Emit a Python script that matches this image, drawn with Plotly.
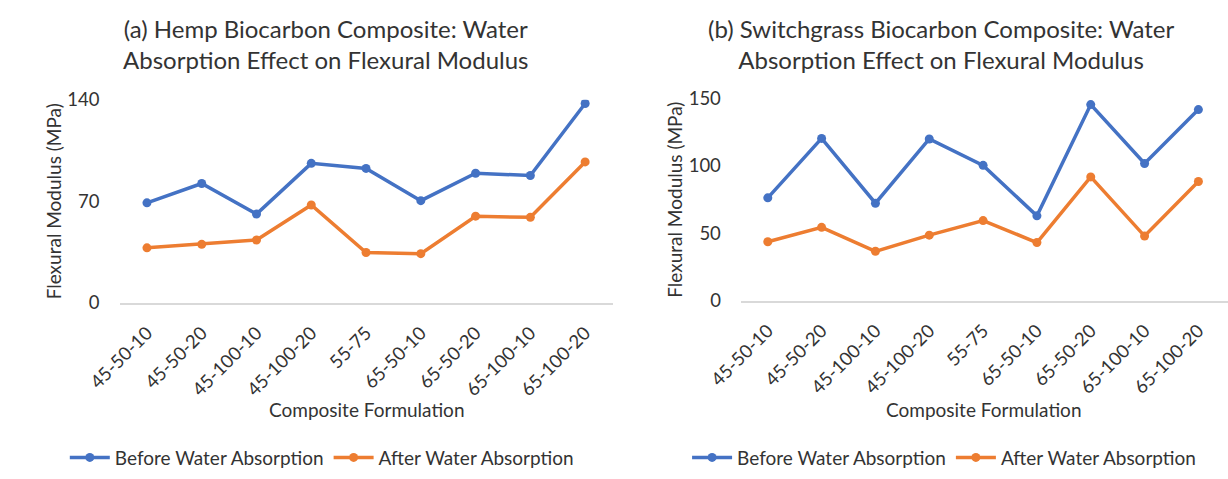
import plotly.graph_objects as go

categories = ["45-50-10", "45-50-20", "45-100-10", "45-100-20", "55-75",
              "65-50-10", "65-50-20", "65-100-10", "65-100-20"]

hemp_before = [69.0, 82.3, 61.3, 96.2, 92.7, 70.5, 89.4, 87.8, 137.4]
hemp_after = [38.0, 40.4, 43.4, 67.5, 34.8, 34.0, 59.8, 59.0, 97.2]

switch_before = [76.3, 120.4, 72.3, 120.0, 100.4, 62.9, 145.5, 101.8, 141.8]
switch_after = [43.7, 54.4, 36.6, 48.6, 59.4, 43.1, 91.8, 47.9, 88.4]

hemp_ticks = [0, 70, 140]
switch_ticks = [0, 50, 100, 150]

BLUE = "#4472C4"
ORANGE = "#ED7D31"
TXT = "#333333"
FONT = "Lato"
W, H = 1228, 479

fig = go.Figure()

def add(x, y, name, color, xa, ya, leg):
    fig.add_trace(go.Scatter(
        x=x, y=y, name=name, mode="lines+markers",
        line=dict(color=color, width=3.5),
        marker=dict(color=color, size=9),
        xaxis=xa, yaxis=ya, legend=leg))

add(categories, hemp_before, "Before Water Absorption", BLUE, "x", "y", "legend")
add(categories, hemp_after, "After Water Absorption", ORANGE, "x", "y", "legend")
add(categories, switch_before, "Before Water Absorption", BLUE, "x2", "y2", "legend2")
add(categories, switch_after, "After Water Absorption", ORANGE, "x2", "y2", "legend2")

tickfont = dict(family=FONT, size=18.5, color=TXT)
xcommon = dict(type="category", tickangle=-45, showgrid=False, zeroline=False,
               showline=True, linecolor="#d9d9d9", linewidth=2, ticks="",
               tickfont=tickfont, ticklabelstandoff=10)
ycommon = dict(showgrid=False, zeroline=False, showline=False, ticks="",
               tickfont=tickfont, ticklabelstandoff=19)

legfont = dict(family=FONT, size=19, color=TXT)

fig.update_layout(
    width=W, height=H,
    margin=dict(l=0, r=0, t=0, b=0),
    paper_bgcolor="white", plot_bgcolor="white",
    font=dict(family=FONT, color=TXT),
    xaxis=dict(domain=[88 / W, 595 / W], range=[-0.5, 8.5], anchor="y", **xcommon),
    xaxis2=dict(domain=[727 / W, 1.0], range=[-0.5, 8.55], anchor="y2", **xcommon),
    yaxis=dict(domain=[1 - 305 / H, 1 - 92 / H], range=[0, 140], tickvals=hemp_ticks,
               anchor="x", **ycommon),
    yaxis2=dict(domain=[1 - 302.5 / H, 1 - 90.7 / H], range=[0, 150], tickvals=switch_ticks,
                anchor="x2", **ycommon),
    legend=dict(orientation="h", x=296 / W, xanchor="center", y=1 - 467 / H, yanchor="middle",
                font=legfont, bgcolor="rgba(0,0,0,0)", itemwidth=40),
    legend2=dict(orientation="h", x=936 / W, xanchor="center", y=1 - 467 / H, yanchor="middle",
                 font=legfont, bgcolor="rgba(0,0,0,0)", itemwidth=40),
)

def ann(text, x, y, size, angle=0):
    fig.add_annotation(text=text, x=x / W, y=1 - y / H, xref="paper", yref="paper",
                       showarrow=False, textangle=angle, xanchor="center", yanchor="middle",
                       font=dict(family=FONT, size=size, color=TXT))

ann("(a) Hemp Biocarbon Composite: Water<br>Absorption Effect on Flexural Modulus", 300, 34, 24)
ann("(b) Switchgrass Biocarbon Composite: Water<br>Absorption Effect on Flexural Modulus", 933, 34, 24)
ann("Flexural Modulus (MPa)", 20, 198, 19, -90)
ann("Flexural Modulus (MPa)", 659, 197, 19, -90)
ann("Composite Formulation", 342, 417, 19)
ann("Composite Formulation", 977, 417, 19)

fig.write_html("out.html")
